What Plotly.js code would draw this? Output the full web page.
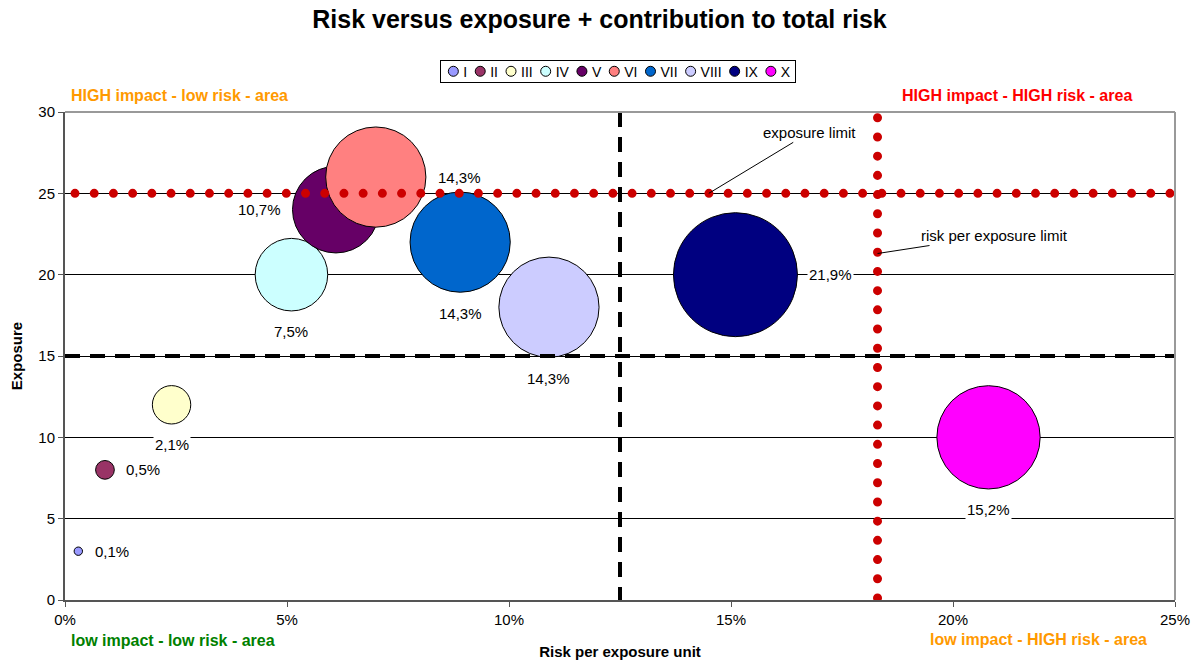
<!DOCTYPE html>
<html>
<head>
<meta charset="utf-8">
<script src="https://cdn.plot.ly/plotly-3.0.1.min.js"></script>
<style>
  html, body { margin: 0; padding: 0; background: #fff; }
  #chart { width: 1199px; height: 662px; }
</style>
</head>
<body>
<div id="chart"></div>
<script>
// ---- data ----
const seriesNames = ['I', 'II', 'III', 'IV', 'V', 'VI', 'VII', 'VIII', 'IX', 'X'];
const riskPerUnit = [0.003, 0.009, 0.024, 0.051, 0.061, 0.070, 0.089, 0.109, 0.151, 0.208];
const exposure    = [3, 8, 12, 20, 24, 26, 22, 18, 20, 10];
const contribution = [0.1, 0.5, 2.1, 7.5, 10.7, 14.3, 14.3, 14.3, 21.9, 15.2];
const seriesColors = ['#9999FF', '#993366', '#FFFFCC', '#CCFFFF', '#660066',
                      '#FF8080', '#0066CC', '#CCCCFF', '#000080', '#FF00FF'];
const labelPlacement = ['right', 'right', 'below', 'below', 'left',
                        'right', 'below', 'below', 'right', 'below'];
const exposureLimit = 25;
const riskLimit = 0.183;
const exposureSplit = 15;
const riskSplit = 0.125;
const xRange = [0, 0.25];
const yRange = [0, 30];

// ---- styling ----
const FONT = 'Arial, "Liberation Sans", sans-serif';
const maxBubble = 124;
const sizeref = 2 * Math.max(...contribution) / (maxBubble * maxBubble);
const radius = v => Math.sqrt(v / 2 / sizeref);
const fmtPct = v => v.toFixed(1).replace('.', ',') + '%';

const traces = [];
// bubbles
traces.push({
  type: 'scatter', mode: 'markers',
  x: riskPerUnit, y: exposure,
  showlegend: false, hoverinfo: 'skip',
  marker: {
    size: contribution, sizemode: 'area', sizeref: sizeref, opacity: 1,
    color: seriesColors, line: {color: '#000', width: 1}
  }
});
// dashed quadrant splits
traces.push({
  type: 'scatter', mode: 'lines', x: xRange, y: [exposureSplit, exposureSplit],
  showlegend: false, hoverinfo: 'skip',
  line: {color: '#000', width: 4, dash: '15px,10px'}
});
traces.push({
  type: 'scatter', mode: 'lines', x: [riskSplit, riskSplit], y: [yRange[1], yRange[0]],
  showlegend: false, hoverinfo: 'skip',
  line: {color: '#000', width: 4, dash: '15px,10px'}
});
// red dotted limits
traces.push({
  type: 'scatter', mode: 'lines', x: xRange, y: [exposureLimit, exposureLimit],
  showlegend: false, hoverinfo: 'skip',
  line: {color: '#CC0000', width: 9}
});
traces.push({
  type: 'scatter', mode: 'lines', x: [riskLimit, riskLimit], y: yRange,
  showlegend: false, hoverinfo: 'skip',
  line: {color: '#CC0000', width: 9}
});
// legend entries
seriesNames.forEach((n, i) => {
  traces.push({
    type: 'scatter', mode: 'markers', x: [null], y: [null], name: n,
    hoverinfo: 'skip',
    marker: {size: 10, color: seriesColors[i], line: {color: '#000', width: 1}}
  });
});

const annotations = [];
riskPerUnit.forEach((xv, i) => {
  const r = radius(contribution[i]);
  const a = {
    x: xv, y: exposure[i], xref: 'x', yref: 'y', showarrow: false,
    text: fmtPct(contribution[i]), bgcolor: '#fff', borderpad: 1,
    font: {family: FONT, size: 15, color: '#000'}
  };
  if (labelPlacement[i] === 'right') { a.xanchor = 'left'; a.xshift = r + 10; }
  else if (labelPlacement[i] === 'left') { a.xanchor = 'right'; a.xshift = -(r + 10); }
  else { a.yshift = -(r + 21); }
  annotations.push(a);
});
annotations.push({
  x: 0.145, y: exposureLimit, xref: 'x', yref: 'y', text: 'exposure limit',
  showarrow: true, arrowhead: 0, arrowwidth: 1, arrowcolor: '#000', ax: 101, ay: -61,
  font: {family: FONT, size: 15, color: '#000'}
});
annotations.push({
  x: riskLimit, y: 21.3, xref: 'x', yref: 'y', text: 'risk per exposure limit',
  showarrow: true, arrowhead: 0, arrowwidth: 1, arrowcolor: '#000', ax: 117, ay: -18,
  font: {family: FONT, size: 15, color: '#000'}
});
const corner = (text, x, y, xanchor, color) => ({
  xref: 'paper', yref: 'paper', x: x, y: y, xanchor: xanchor, yanchor: 'middle',
  showarrow: false, text: '<b>' + text + '</b>',
  font: {family: FONT, size: 16, color: color}
});
annotations.push(corner('HIGH impact - low risk - area', 0.0036, 1.033, 'left', '#FF9900'));
annotations.push(corner('HIGH impact - HIGH risk - area', 0.858, 1.033, 'center', '#FF0000'));
annotations.push(corner('low impact - low risk - area', 0.0036, -0.084, 'left', '#008000'));
annotations.push(corner('low impact - HIGH risk - area', 0.877, -0.080, 'center', '#FF9900'));

const layout = {
  width: 1199, height: 662,
  margin: {l: 65, r: 24, t: 112, b: 62},
  paper_bgcolor: '#fff', plot_bgcolor: '#fff',
  font: {family: FONT, size: 15, color: '#000'},
  title: {
    text: '<b>Risk versus exposure + contribution to total risk</b>',
    font: {family: FONT, size: 25, color: '#000'},
    x: 0.5, xanchor: 'center', y: 1 - 19 / 662, yref: 'container', yanchor: 'middle'
  },
  xaxis: {
    range: xRange, tick0: 0, dtick: 0.05, tickformat: '.0%',
    showgrid: false, zeroline: false, showline: true, linecolor: '#555', linewidth: 2,
    ticks: 'outside', ticklen: 5, tickcolor: '#555', tickwidth: 1,
    tickfont: {family: FONT, size: 15, color: '#000'},
    title: {text: '<b>Risk per exposure unit</b>', font: {family: FONT, size: 15, color: '#000'}, standoff: 19},
    automargin: false, fixedrange: true
  },
  yaxis: {
    range: yRange, tick0: 0, dtick: 5,
    showgrid: true, gridcolor: '#000', gridwidth: 1,
    zeroline: false, showline: true, linecolor: '#555', linewidth: 2,
    ticks: 'outside', ticklen: 5, tickcolor: '#555', tickwidth: 1,
    tickfont: {family: FONT, size: 15, color: '#000'},
    title: {text: '<b>Exposure</b>', font: {family: FONT, size: 15, color: '#000'}, standoff: 12},
    automargin: false, fixedrange: true
  },
  showlegend: true,
  legend: {
    orientation: 'h', x: 0.498, xanchor: 'center', y: 1.107, yanchor: 'top',
    bgcolor: '#fff', bordercolor: '#000', borderwidth: 1,
    font: {family: FONT, size: 14, color: '#000'},
    itemwidth: 30, tracegroupgap: 0
  },
  shapes: [
    {type: 'line', xref: 'paper', yref: 'paper', x0: 0, x1: 1, y0: 1, y1: 1,
     line: {color: '#999', width: 2}, layer: 'above'},
    {type: 'line', xref: 'paper', yref: 'paper', x0: 1, x1: 1, y0: 0, y1: 1,
     line: {color: '#999', width: 2}, layer: 'above'}
  ],
  annotations: annotations
};

const parseT = el => {
  const m = /translate\(\s*([-\d.e]+)[ ,]+([-\d.e]+)/.exec((el && el.getAttribute('transform')) || '');
  return m ? [parseFloat(m[1]), parseFloat(m[2])] : [0, 0];
};

function compactLegend(gd) {
  const leg = gd.querySelector('g.legend');
  if (!leg) return;
  const bg = leg.querySelector('rect.bg');
  const items = Array.from(leg.querySelectorAll('g.traces'));
  if (!bg || !items.length) return;
  const symR = 5, symGap = 5, itemGap = 8, padL = 8, padR = 5, boxH = 22;
  const legCTM = leg.getScreenCTM();
  const parCTM = items[0].parentNode.getScreenCTM();
  const ox = parCTM.e - legCTM.e, oy = parCTM.f - legCTM.f;
  const bgx = parseFloat(bg.getAttribute('x') || 0);
  const bgy = parseFloat(bg.getAttribute('y') || 0);
  const oldW = parseFloat(bg.getAttribute('width'));
  let cx = bgx + padL + symR;
  let end = cx;
  items.forEach(it => {
    const t = it.querySelector('text.legendtext');
    const pt = it.querySelector('.legendpoints path');
    const [sx, sy] = pt ? parseT(pt) : [20, 0];
    it.setAttribute('transform', `translate(${cx - sx - ox}, ${bgy + boxH / 2 - sy - oy})`);
    let w = 0;
    if (t) {
      t.setAttribute('x', sx + symR + symGap);
      w = t.getComputedTextLength();
    }
    end = cx + symR + symGap + w;
    cx = end + itemGap + symR;
  });
  const total = end + padR - bgx;
  const [lx, ly] = parseT(leg);
  const center = lx + bgx + oldW / 2;
  bg.setAttribute('width', total);
  bg.setAttribute('height', boxH);
  leg.setAttribute('transform', `translate(${center - bgx - total / 2}, ${ly})`);
}

Plotly.newPlot('chart', traces, layout, {staticPlot: true, displayModeBar: false}).then(gd => {
  const groups = gd.querySelectorAll('.scatterlayer .trace');
  [[3, 10], [4, 2]].forEach(([idx, off]) => {
    const p = groups[idx] && groups[idx].querySelector('.js-line');
    if (!p) return;
    p.style.strokeDasharray = '0.01px, 19.2px';
    p.style.strokeLinecap = 'round';
    p.style.strokeDashoffset = (-off) + 'px';
  });
  compactLegend(gd);
});
</script>
</body>
</html>
